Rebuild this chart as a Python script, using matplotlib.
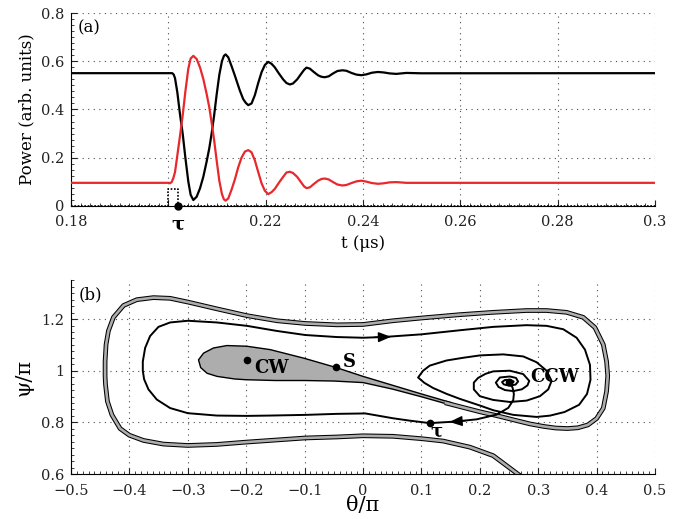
import matplotlib
matplotlib.use('Agg')
import matplotlib.pyplot as plt
from matplotlib.ticker import AutoMinorLocator
from matplotlib.patches import Polygon

# ---- panel (a): output powers versus time ----
t_black = [0.18, 0.2008, 0.2011, 0.20137, 0.20185, 0.20239, 0.20294, 0.20349, 0.2041, 0.20458,
           0.20513, 0.20581, 0.2065, 0.20718, 0.20786, 0.2084, 0.20889, 0.20937, 0.20991, 0.21046,
           0.21101, 0.21142, 0.21176, 0.21231, 0.21299, 0.21368, 0.21409, 0.2147, 0.21538, 0.21593,
           0.21641, 0.21709, 0.21778, 0.21846, 0.21915, 0.21983, 0.22051, 0.2212, 0.22188, 0.2227,
           0.22359, 0.22427, 0.22496, 0.2256, 0.22646, 0.22735, 0.2279, 0.22838, 0.22906, 0.22988,
           0.23077, 0.23145, 0.23214, 0.23296, 0.23385, 0.23474, 0.23576, 0.23658, 0.23761, 0.23863,
           0.23966, 0.24068, 0.24185, 0.24308, 0.24424, 0.24547, 0.24684, 0.24889, 0.252, 0.3]
p_black = [0.551, 0.551, 0.545, 0.53, 0.47, 0.38, 0.30, 0.20, 0.10, 0.045,
           0.0235, 0.037, 0.072, 0.12, 0.183, 0.238, 0.30, 0.37, 0.46, 0.543,
           0.601, 0.623, 0.629, 0.617, 0.58, 0.54, 0.515, 0.478, 0.443, 0.427,
           0.418, 0.425, 0.46, 0.51, 0.555, 0.585, 0.598, 0.59, 0.575, 0.55,
           0.525, 0.51, 0.504, 0.508, 0.525, 0.55, 0.565, 0.574, 0.57, 0.556,
           0.542, 0.536, 0.534, 0.538, 0.55, 0.56, 0.563, 0.561, 0.552, 0.545,
           0.5425, 0.546, 0.553, 0.556, 0.554, 0.55, 0.548, 0.552, 0.5505, 0.551]

t_red = [0.18, 0.2002, 0.20034, 0.20068, 0.20103, 0.20137, 0.20185, 0.20239, 0.20294, 0.20349,
         0.2041, 0.20458, 0.20513, 0.20581, 0.2065, 0.20718, 0.20786, 0.2084, 0.20889, 0.20937,
         0.20991, 0.21046, 0.21101, 0.21142, 0.21176, 0.21231, 0.21299, 0.21368, 0.21436, 0.21504,
         0.21573, 0.21641, 0.21709, 0.21778, 0.21846, 0.21915, 0.21983, 0.22051, 0.2212, 0.22188,
         0.2227, 0.22359, 0.22427, 0.22496, 0.2256, 0.22646, 0.22735, 0.2279, 0.22838, 0.22906,
         0.22988, 0.23077, 0.23145, 0.23214, 0.23296, 0.23385, 0.23474, 0.23576, 0.23658, 0.23761,
         0.23863, 0.23966, 0.24068, 0.24185, 0.24308, 0.24424, 0.24547, 0.24684, 0.24889, 0.3]
p_red = [0.095, 0.095, 0.093, 0.098, 0.115, 0.14, 0.21, 0.29, 0.375, 0.474,
         0.57, 0.612, 0.623, 0.61, 0.575, 0.527, 0.465, 0.41, 0.345, 0.278,
         0.19, 0.105, 0.048, 0.026, 0.021, 0.03, 0.067, 0.11, 0.16, 0.2,
         0.225, 0.231, 0.222, 0.188, 0.14, 0.093, 0.062, 0.048, 0.056, 0.07,
         0.095, 0.12, 0.138, 0.141, 0.136, 0.12, 0.095, 0.08, 0.073, 0.076,
         0.09, 0.104, 0.111, 0.113, 0.109, 0.098, 0.088, 0.084, 0.086, 0.094,
         0.101, 0.104, 0.1, 0.094, 0.091, 0.093, 0.097, 0.098, 0.095, 0.095]

# injected pulse (dotted)
pulse_t = [0.18, 0.2, 0.2, 0.202, 0.202, 0.3]
pulse_p = [0, 0, 0.07, 0.07, 0, 0]
tau_t = 0.202

a_xticks = [0.18, 0.2, 0.22, 0.24, 0.26, 0.28, 0.3]
a_xlabels = ['0.18', '', '0.22', '0.24', '0.26', '0.28', '0.3']
a_yticks = [0, 0.2, 0.4, 0.6, 0.8]
a_ylabels = ['0', '0.2', '0.4', '0.6', '0.8']

# ---- panel (b): phase plane ----
# basin of CW (teardrop around CW with its tail)
tear_theta = [0.155, 0.15, 0.1, 0.05, 0.0, -0.047, -0.1017, -0.1589, -0.1989, -0.2331,
              -0.256, -0.2731, -0.2817, -0.278, -0.267, -0.25, -0.22, -0.2, -0.15, -0.1,
              -0.05, 0.0, 0.05, 0.1, 0.15]
tear_psi = [0.871, 0.877, 0.91, 0.944, 0.978, 1.013, 1.0487, 1.0816, 1.0947, 1.0974,
            1.088, 1.068, 1.042, 1.012, 0.99, 0.978, 0.968, 0.965, 0.962, 0.962,
            0.96, 0.954, 0.929, 0.899, 0.867]

# thin band of the basin wrapping around both states
band_theta = [0.14, 0.2, 0.2288, 0.2571, 0.2858, 0.31, 0.33, 0.35, 0.368, 0.385,
              0.4, 0.4114, 0.417, 0.419, 0.417, 0.4114, 0.3971, 0.3771, 0.3486, 0.3143,
              0.28, 0.2229, 0.1657, 0.1, 0.0514, 0.0, -0.0446, -0.0989, -0.1474, -0.1989,
              -0.2503, -0.3, -0.3303, -0.3589, -0.3874, -0.41, -0.4274, -0.436, -0.44, -0.4417,
              -0.4417, -0.441, -0.4377, -0.43, -0.416, -0.4, -0.376, -0.3417, -0.3, -0.2503,
              -0.1989, -0.1589, -0.0989, -0.0446, 0.0, 0.0514, 0.1, 0.1371, 0.1829, 0.2229,
              0.2674, 0.28]
band_psi = [0.876, 0.841, 0.826, 0.81, 0.794, 0.784, 0.778, 0.776, 0.779, 0.79,
            0.815, 0.855, 0.92, 0.98, 1.036, 1.1013, 1.167, 1.2066, 1.226, 1.233,
            1.233, 1.226, 1.217, 1.204, 1.1934, 1.179, 1.1776, 1.1829, 1.1934, 1.2132,
            1.2395, 1.2658, 1.2803, 1.283, 1.275, 1.2526, 1.2066, 1.154, 1.1013, 1.0355,
            0.98, 0.9474, 0.8816, 0.829, 0.776, 0.75, 0.73, 0.7158, 0.7105, 0.7145,
            0.7237, 0.73, 0.7395, 0.7434, 0.748, 0.746, 0.7368, 0.7276, 0.704, 0.671,
            0.596, 0.57]

# trajectory: CCW -> tau (pulse), then free evolution back into CCW
traj_theta = [0.2497, 0.256, 0.2583, 0.2572, 0.2487, 0.2288, 0.1947, 0.1576, 0.1143, 0.08,
              0.0514, 0.004, -0.0446, -0.0989, -0.1589, -0.1989, -0.2503, -0.3, -0.3303, -0.3531,
              -0.3674, -0.3749, -0.3771, -0.3771, -0.3731, -0.3646, -0.3503, -0.3303, -0.3, -0.2503,
              -0.1989, -0.1474, -0.0989, -0.0446, 0.0, 0.0343, 0.1, 0.1657, 0.2229, 0.28,
              0.3143, 0.3429, 0.3657, 0.38, 0.3886, 0.3895, 0.3835, 0.37, 0.345, 0.32,
              0.2972, 0.2572, 0.2229, 0.2003, 0.1657, 0.1434, 0.12, 0.105, 0.0943, 0.1029,
              0.1143, 0.1429, 0.1714, 0.2, 0.24, 0.2743, 0.2971, 0.3143, 0.3229, 0.3171,
              0.3029, 0.28, 0.2514, 0.2229, 0.2, 0.1897, 0.1897, 0.197, 0.2099, 0.2229,
              0.2514, 0.2743, 0.2846, 0.2815, 0.272, 0.2571, 0.243, 0.232, 0.2274, 0.2343,
              0.2514, 0.262, 0.2655, 0.261, 0.25, 0.241, 0.238, 0.243, 0.252, 0.258,
              0.255, 0.2497]
traj_psi = [0.955, 0.935, 0.91, 0.886, 0.856, 0.83, 0.8117, 0.803, 0.797, 0.8066,
            0.8158, 0.8345, 0.8329, 0.8289, 0.8263, 0.825, 0.8263, 0.8355, 0.8553, 0.8882,
            0.9276, 0.9671, 1.0, 1.0355, 1.0882, 1.1342, 1.1697, 1.1868, 1.1934, 1.1868,
            1.1737, 1.1539, 1.1382, 1.1303, 1.1276, 1.1303, 1.1408, 1.1566, 1.1697, 1.1763,
            1.1737, 1.1605, 1.1276, 1.0816, 1.0224, 0.965, 0.91, 0.868, 0.84, 0.826,
            0.821, 0.829, 0.847, 0.865, 0.891, 0.91, 0.933, 0.953, 0.9737, 1.0,
            1.0197, 1.0395, 1.05, 1.0592, 1.0632, 1.0553, 1.0329, 1.0, 0.9605, 0.9276,
            0.9013, 0.8842, 0.8789, 0.8868, 0.9013, 0.9276, 0.9539, 0.972, 0.988, 0.9974,
            1.0, 0.9868, 0.9605, 0.943, 0.928, 0.9211, 0.925, 0.937, 0.9539, 0.9737,
            0.9776, 0.972, 0.958, 0.946, 0.942, 0.947, 0.956, 0.964, 0.965, 0.958,
            0.95, 0.955]

state_names = ['CW', 'S', 'CCW', 'τ']
state_theta = [-0.199, -0.047, 0.2497, 0.114]
state_psi = [1.041, 1.013, 0.955, 0.797]

b_xticks = [-0.5, -0.4, -0.3, -0.2, -0.1, 0, 0.1, 0.2, 0.3, 0.4, 0.5]
b_xlabels = ['\u22120.5', '\u22120.4', '\u22120.3', '\u22120.2', '\u22120.1', '0',
             '0.1', '0.2', '0.3', '0.4', '0.5']
b_yticks = [0.6, 0.8, 1.0, 1.2]
b_ylabels = ['0.6', '0.8', '1', '1.2']

plt.rcParams['font.family'] = ['DejaVu Serif']
red = '#e8282d'
gray = '#adadad'

fig = plt.figure(figsize=(6.95, 5.19), dpi=100)
ax1 = fig.add_axes([0.1022, 0.6037, 0.8403, 0.3707])
ax2 = fig.add_axes([0.1022, 0.0867, 0.8403, 0.3732])


def style(ax):
    for s in ['top', 'right']:
        ax.spines[s].set_visible(False)
    ax.grid(True, which='major', linestyle=(0, (1, 4)), color='0.3', lw=0.8)
    ax.tick_params(which='both', direction='in', labelsize=10.5, colors='#222222')
    ax.tick_params(which='major', length=4)
    ax.tick_params(which='minor', length=2)
    ax.tick_params(axis='x', which='major', pad=7)
    ax.tick_params(axis='y', which='major', pad=5)
    ax.set_axisbelow(True)


# (a)
style(ax1)
ax1.plot(t_black, p_black, color='k', lw=1.6, zorder=3)
ax1.plot(t_red, p_red, color=red, lw=1.6, zorder=3)
ax1.plot(pulse_t, pulse_p, color='k', lw=1.2, linestyle=(0, (1, 1)), zorder=4, clip_on=False)
ax1.plot([tau_t], [0], 'o', color='k', ms=5, zorder=5, clip_on=False)
ax1.set_xlim(0.18, 0.3)
ax1.set_ylim(0, 0.8)
ax1.set_xticks(a_xticks)
ax1.set_xticklabels(a_xlabels)
ax1.set_yticks(a_yticks)
ax1.set_yticklabels(a_ylabels)
ax1.xaxis.set_minor_locator(AutoMinorLocator(10))
ax1.yaxis.set_minor_locator(AutoMinorLocator(8))
ax1.text(tau_t, -0.04, 'τ', ha='center', va='top', fontsize=14, fontweight='bold')
ax1.text(0.1813, 0.74, '(a)', ha='left', va='center', fontsize=12)
ax1.set_xlabel('t (\u03bcs)', fontsize=12, labelpad=4)
ax1.set_ylabel('Power (arb. units)', fontsize=12, labelpad=4)

# (b)
style(ax2)
ax2.plot(band_theta, band_psi, color='k', lw=3.4, solid_capstyle='butt', zorder=2)
ax2.add_patch(Polygon(list(zip(tear_theta, tear_psi)), closed=True, facecolor=gray,
                      edgecolor='k', lw=1.0, zorder=3))
ax2.plot(band_theta, band_psi, color=gray, lw=1.9, solid_capstyle='butt', zorder=4)
ax2.plot(traj_theta, traj_psi, color='k', lw=1.4, zorder=5)

for xy, xytext in [((0.048, 1.1312), (0.02, 1.1295)), ((0.148, 0.8015), (0.175, 0.806))]:
    ax2.annotate('', xy=xy, xytext=xytext, zorder=6,
                 arrowprops=dict(arrowstyle='-|>,head_length=0.55,head_width=0.22',
                                 color='k', lw=1.0, mutation_scale=14, shrinkA=0, shrinkB=0))

ax2.plot(state_theta, state_psi, 'o', color='k', ms=4.5, zorder=6)
ax2.text(-0.187, 1.010, state_names[0], fontsize=13, fontweight='bold', va='center', ha='left', zorder=7)
ax2.text(-0.035, 1.032, state_names[1], fontsize=13, fontweight='bold', va='center', ha='left', zorder=7)
ax2.text(0.287, 0.975, state_names[2], fontsize=13, fontweight='bold', va='center', ha='left', zorder=7)
ax2.text(0.125, 0.765, state_names[3], fontsize=13, fontweight='bold', va='center', ha='center', zorder=7)
ax2.text(-0.487, 1.295, '(b)', ha='left', va='center', fontsize=12)

ax2.set_xlim(-0.5, 0.5)
ax2.set_ylim(0.6, 1.35)
ax2.set_xticks(b_xticks)
ax2.set_xticklabels(b_xlabels)
ax2.set_yticks(b_yticks)
ax2.set_yticklabels(b_ylabels)
ax2.xaxis.set_minor_locator(AutoMinorLocator(10))
ax2.yaxis.set_minor_locator(AutoMinorLocator(8))
ax2.set_xlabel('θ/π', fontsize=15, labelpad=-1)
ax2.set_ylabel('ψ/π', fontsize=15, labelpad=5)

fig.savefig('out.png', dpi=100)
